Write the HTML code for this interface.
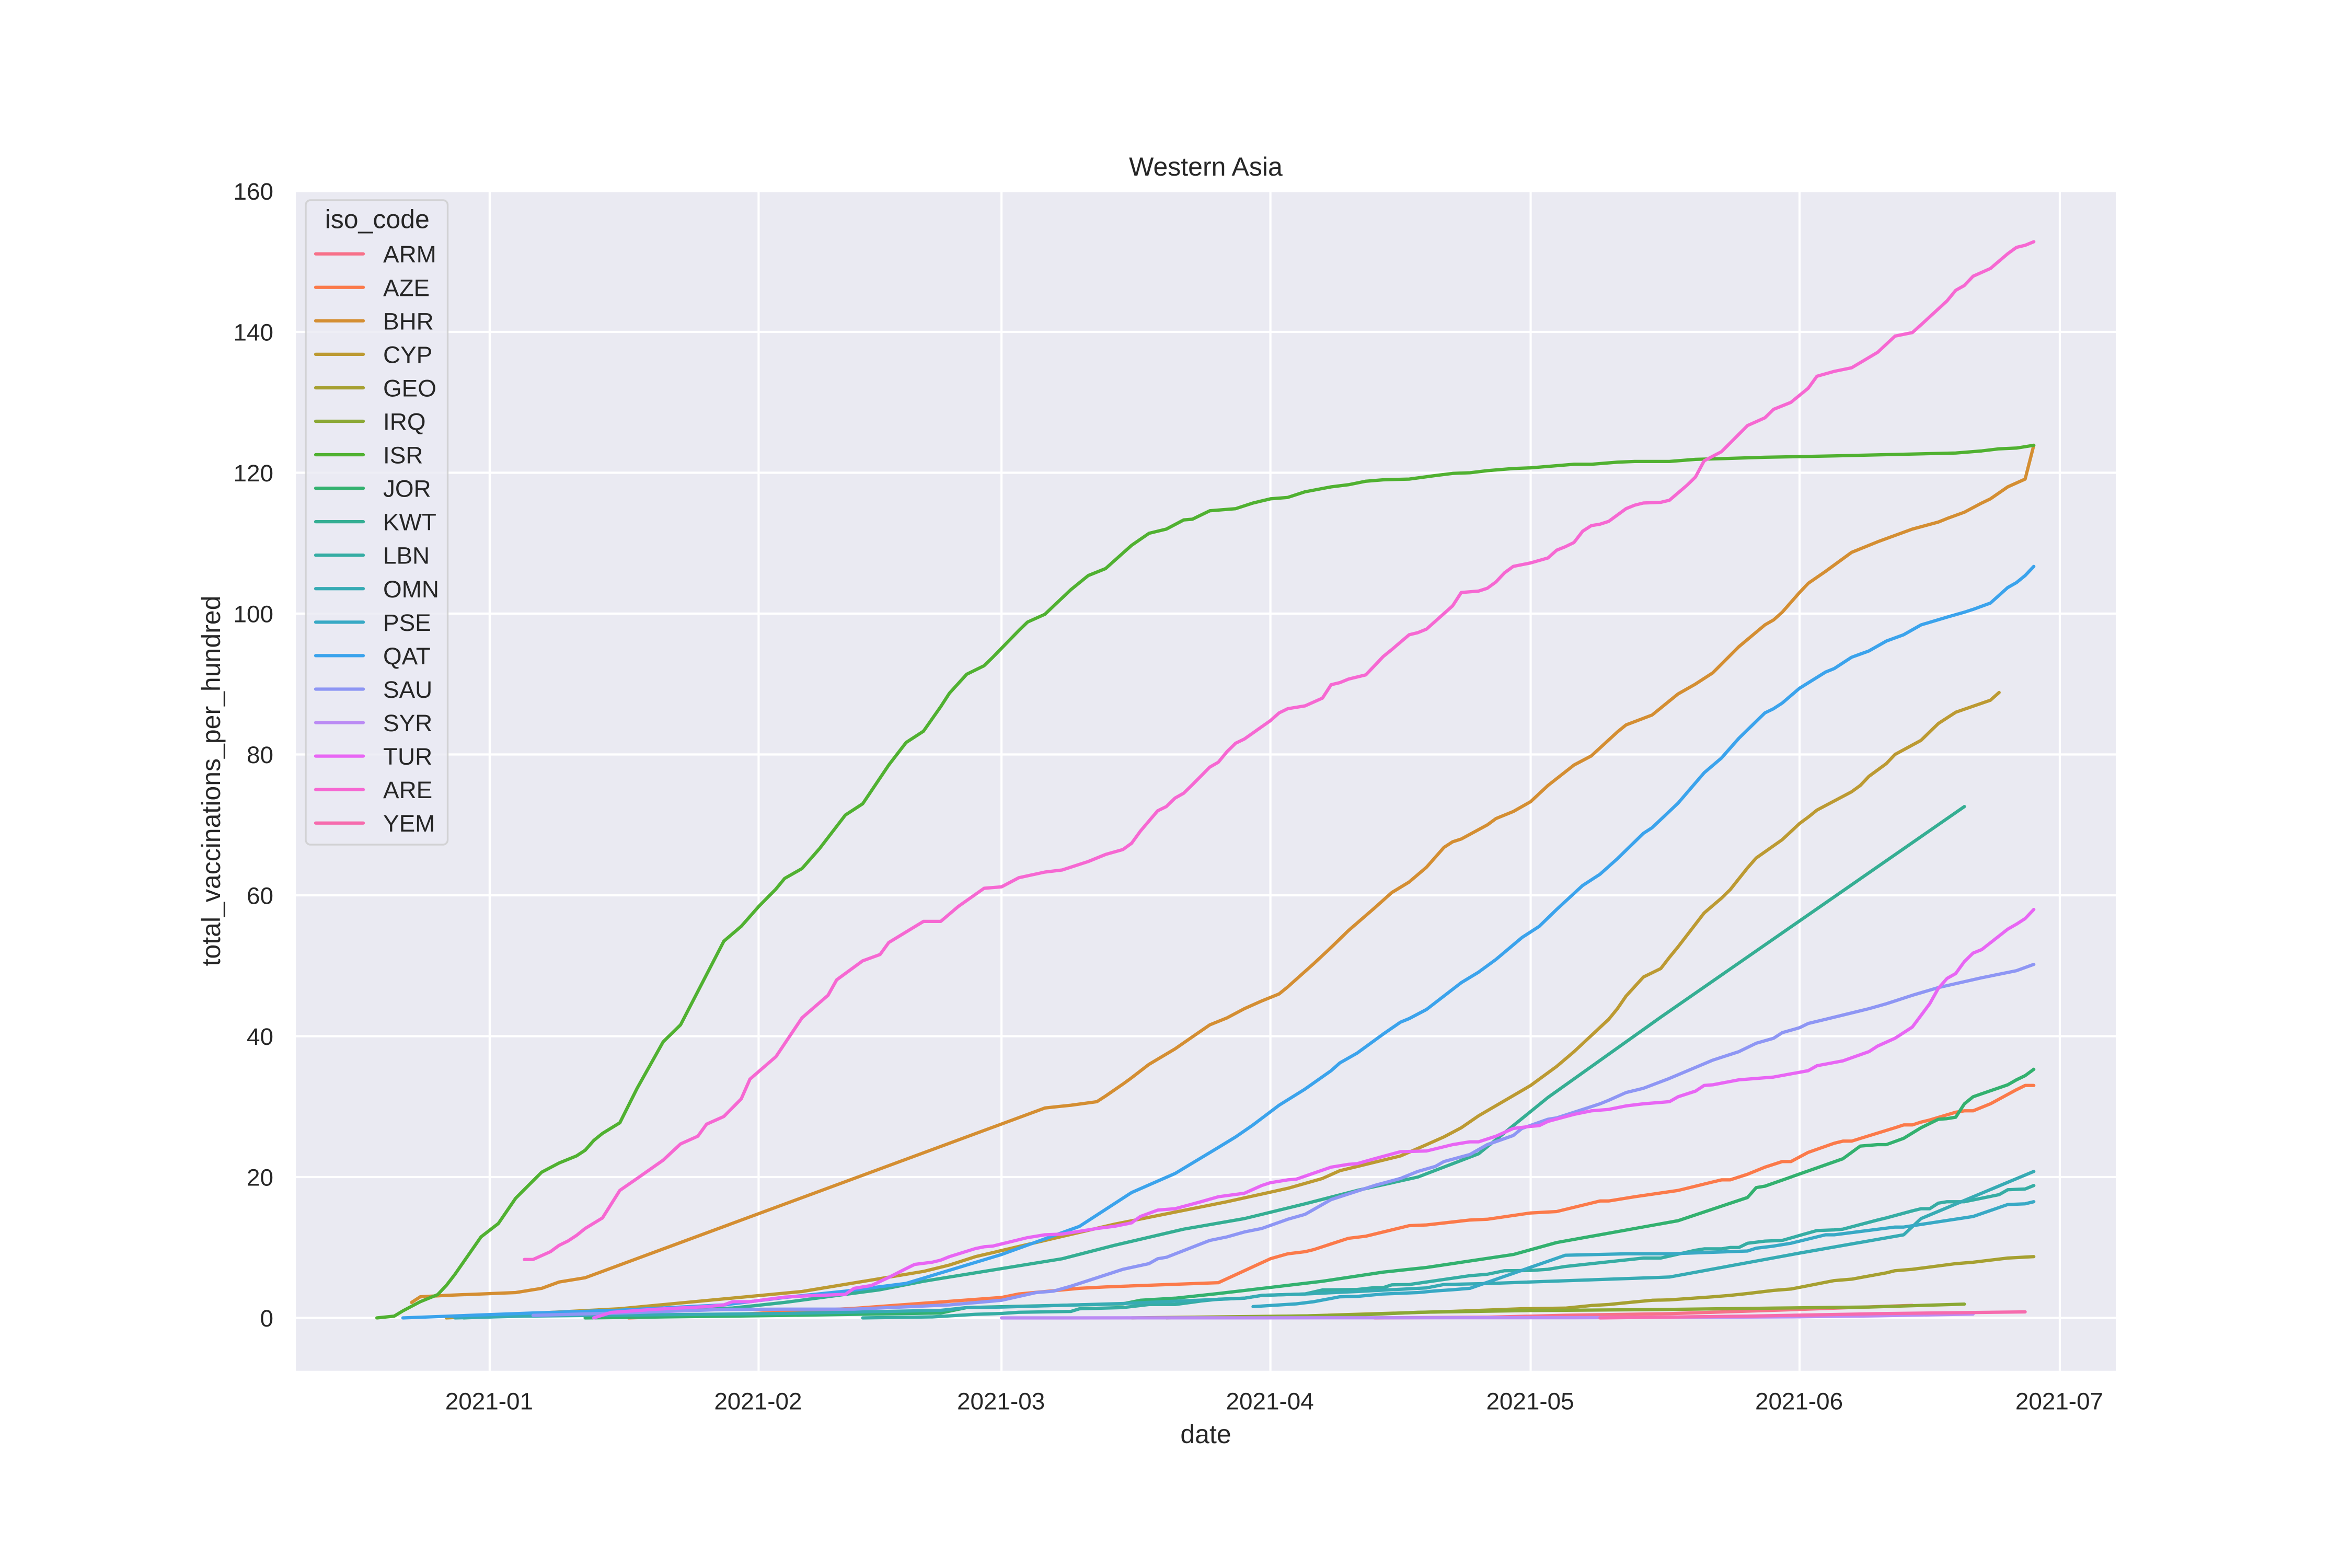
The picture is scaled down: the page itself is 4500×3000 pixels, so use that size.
<!DOCTYPE html>
<html lang="en">
<head>
<meta charset="utf-8">
<title>Western Asia</title>
<style>
html,body{margin:0;padding:0;background:#fff;}
svg{display:block;}
text{font-family:"Liberation Sans",sans-serif;fill:#262626;}
</style>
</head>
<body>
<svg id="chart" xmlns="http://www.w3.org/2000/svg" width="4500" height="3000" viewBox="0 0 4500 3000">
  <rect x="0" y="0" width="4500" height="3000" fill="#ffffff"/>
  <rect x="566" y="363" width="3482" height="2259.7" fill="#eaeaf2"/>
  <g id="grid"></g>
  <g id="series"></g>
  <g id="yticks"></g>
  <g id="xticks"></g>
  <text x="2307" y="336" font-size="50" text-anchor="middle">Western Asia</text>
  <text x="2307" y="2761" font-size="50" text-anchor="middle">date</text>
  <text transform="translate(421 1494) rotate(-90)" font-size="50" text-anchor="middle">total_vaccinations_per_hundred</text>
  <g id="legend">
    <rect x="585" y="383" width="271.5" height="1233" rx="9" ry="9" fill="#eaeaf2" fill-opacity="0.8" stroke="#cccccc" stroke-opacity="0.8" stroke-width="3.4"/>
    <text x="721.7" y="436.7" font-size="50" text-anchor="middle">iso_code</text>
  </g>
</svg>
<script>
const ISO_CODES = ['ARM','AZE','BHR','CYP','GEO','IRQ','ISR','JOR','KWT','LBN','OMN','PSE','QAT','SAU','SYR','TUR','ARE','YEM'];
const Y_TICK_VALUES = [0,20,40,60,80,100,120,140,160];
const X_TICK_LABELS = ['2021-01','2021-02','2021-03','2021-04','2021-05','2021-06','2021-07'];
const X_TICK_DAYS = [0,31,59,90,120,151,181];

// Days are counted from 2021-01-01; values are vaccinations per hundred.
const ARM_days = [102,115,124,136,151,160,164];
const ARM_values = [0,.1,.37,.6,1.2,1.6,1.78];

const AZE_days = [16,30,42,59,61,68,71,84,90,92,
  94,95,99,101,106,108,113,115,120,123,
  128,129,132,137,141,142,143,145,147,149,
  150,152,155,156,157,162,163,164,165,166,
  169,170,171,173,176,177,178];
const AZE_values = [0,.6,1.35,2.9,3.4,4.2,4.4,5,8.4,9.1,
  9.4,9.7,11.3,11.6,13.1,13.2,13.9,14,14.9,15.1,
  16.6,16.6,17.2,18.1,19.3,19.6,19.6,20.4,21.4,22.2,
  22.2,23.5,24.8,25.1,25.1,27,27.4,27.4,27.8,28.1,
  29.2,29.4,29.4,30.4,32.4,33,33];

const BHR_days = [-9,-8,-5,-1,3,4,6,8,11,64,
  67,70,71,73,74,76,79,81,83,85,
  87,89,91,92,95,97,99,102,104,106,
  108,110,111,112,115,116,118,120,122,125,
  127,130,131,134,137,139,141,144,147,148,
  149,151,152,154,157,160,164,167,168,170,
  172,173,175,177,178];
const BHR_values = [2.2,3,3.2,3.4,3.6,3.8,4.2,5.1,5.7,29.8,
  30.2,30.7,31.5,33.2,34.1,36,38.2,39.9,41.6,42.6,
  43.9,45,46,47,50.3,52.6,55,58.2,60.4,61.9,
  64,66.8,67.6,68,70,70.9,71.9,73.3,75.6,78.5,
  79.8,83.2,84.2,85.6,88.6,90,91.6,95.3,98.4,99.1,
  100.2,103,104.3,106,108.7,110.2,112,113,113.5,114.4,
  115.7,116.3,118,119.1,123.9];

const CYP_days = [-5,15,36,50,53,56,72,85,92,96,
  98,100,105,108,110,112,114,120,123,125,
  129,130,131,133,135,136,137,140,142,143,
  145,146,149,151,152,153,157,158,159,161,
  162,165,167,169,173,174];
const CYP_values = [0,1.3,3.75,6.6,7.5,8.7,13.3,16.5,18.4,19.8,
  20.9,21.5,23,24.6,25.7,27,28.7,33,35.7,37.8,
  42.4,43.9,45.7,48.4,49.6,51.2,52.7,57.5,59.6,60.8,
  63.9,65.3,67.9,70.2,71.1,72.1,74.7,75.6,76.9,78.7,
  80,82,84.4,86,87.7,88.8];

const GEO_days = [74,94,111,119,124,127,129,132,134,136,
  141,143,145,148,150,155,157,161,162,164,
  169,171,175,178];
const GEO_values = [0,.28,.93,1.3,1.39,1.76,1.9,2.27,2.5,2.56,
  3,3.2,3.46,3.9,4.1,5.3,5.5,6.4,6.7,6.9,
  7.7,7.9,8.5,8.7];

const IRQ_days = [78,87,100,107,120,136,148,159,170];
const IRQ_values = [0,.15,.4,.8,1.05,1.2,1.39,1.54,1.96];

const ISR_days = [-13,-11,-10,-8,-6,-5,-4,-1,1,3,
  6,8,10,11,12,13,15,17,20,22,27,29,31,
  33,34,36,38,41,43,46,48,50,52,
  53,55,57,58,61,62,64,67,69,71,
  74,76,78,80,81,83,86,88,90,92,
  94,97,99,101,103,106,109,111,113,115,
  118,120,123,125,127,130,132,136,139,142,
  147,155,162,169,172,174,176,178];
const ISR_values = [0,.25,1,2.3,3.3,4.6,6.2,11.5,13.4,17,
  20.7,22,23,23.8,25.2,26.2,27.7,32.6,39.2,41.6,53.5,55.6,58.4,
  60.9,62.4,63.8,66.6,71.4,73,78.5,81.7,83.3,86.8,
  88.7,91.4,92.6,93.8,97.6,98.8,99.9,103.4,105.4,106.4,
  109.7,111.4,112,113.3,113.4,114.6,114.9,115.7,116.3,116.5,
  117.3,118,118.3,118.8,119,119.1,119.6,119.9,120,120.3,
  120.6,120.7,121,121.2,121.2,121.5,121.6,121.6,121.9,122,
  122.2,122.4,122.6,122.8,123.1,123.4,123.5,123.9];

const JOR_days = [11,34,52,55,73,75,79,84,96,103,
  108,118,123,137,145,146,147,156,158,160,
  161,163,165,167,168,169,170,171,175,176,177,178];
const JOR_values = [0,.35,.7,1.47,2,2.5,2.8,3.46,5.2,6.5,
  7.16,9,10.7,13.8,17.1,18.5,18.7,22.6,24.4,24.6,
  24.6,25.5,27,28.2,28.3,28.5,30.4,31.4,33.1,33.8,34.4,35.3];

const KWT_days = [-3,28,34,45,50,59,66,72,80,87,
  94,100,107,114,118,122,135,170];
const KWT_values = [0,1.4,2.2,4,5.2,7,8.4,10.3,12.6,14.1,
  16.2,18.1,20,23.3,27.3,31.3,42.7,72.6];

const LBN_days = [43,51,56,59,61,67,68,73,76,79,
  82,84,87,89,94,96,100,102,103,104,
  106,113,115,117,120,122,124,133,135,139,
  140,142,143,144,145,147,149,151,153,155,
  156,160,161,164,165,166,167,168,170,174,
  175,177,178];
const LBN_values = [0,.14,.51,.63,.8,.92,1.3,1.47,1.9,1.9,
  2.4,2.65,2.8,3.2,3.4,3.97,4.04,4.3,4.3,4.7,
  4.74,6,6.2,6.7,6.73,6.9,7.3,8.5,8.5,9.6,
  9.8,9.8,10,10,10.6,10.9,11,11.7,12.4,12.5,
  12.6,13.9,14.2,15.2,15.5,15.5,16.3,16.5,16.5,17.5,
  18.2,18.3,18.8];

const OMN_days = [-4,4,20,34,52,55,59,73,87,89,
  94,100,108,110,115,136,151,163,165,178];
const OMN_values = [0,.25,.45,.63,1.07,1.47,1.54,2.04,2.8,3.2,
  3.4,3.75,4.26,4.74,4.88,5.8,9.2,11.8,14.1,20.8];

const PSE_days = [88,93,95,98,100,103,107,109,111,113,
  124,131,136,145,146,148,150,154,155,162,
  163,171,175,177,178];
const PSE_values = [1.6,2,2.3,3,3.05,3.4,3.6,3.83,4,4.2,
  8.9,9.1,9.1,9.5,9.9,10.2,10.6,11.8,11.8,12.9,
  12.9,14.4,16.1,16.2,16.5];

const QAT_days = [-10,4,15,27,34,41,48,59,68,74,
  79,84,86,88,91,94,97,98,100,103,
  105,106,108,112,114,116,119,121,123,126,
  128,130,133,134,137,140,142,144,147,148,
  149,151,154,155,157,159,161,163,165,168,
  170,171,173,175,176,177,178];
const QAT_values = [0,.65,1.1,1.85,2.9,3.8,4.9,9,13,17.8,
  20.5,24.2,25.7,27.4,30.2,32.5,35.1,36.2,37.6,40.3,
  42,42.5,43.8,47.6,49.1,50.9,54,55.6,58,61.4,
  63,65.2,68.8,69.6,73.1,77.4,79.5,82.3,85.9,86.5,
  87.3,89.4,91.7,92.2,93.8,94.7,96.1,97,98.4,99.5,
  100.2,100.6,101.5,103.7,104.4,105.4,106.7];

const SAU_days = [5,15,27,34,42,53,59,63,65,67,
  68,73,76,77,78,83,85,87,89,92,
  94,97,102,105,107,109,110,113,115,118,
  119,122,123,128,129,131,133,136,141,144,
  146,148,149,151,152,154,159,161,162,164,
  167,172,176,178];
const SAU_values = [.36,.7,1.2,1.25,1.25,1.85,2.5,3.6,3.8,4.5,
  4.9,6.9,7.7,8.4,8.6,11,11.5,12.2,12.7,14,
  14.7,16.8,18.8,19.8,20.8,21.5,22.2,23.2,24.6,25.9,
  26.9,28.2,28.4,30.4,30.9,32,32.6,34,36.6,37.8,
  39,39.7,40.5,41.2,41.8,42.4,43.9,44.6,45,45.8,
  46.9,48.3,49.3,50.2];

const SYR_days = [59,125,150,160,171];
const SYR_values = [0,.03,.15,.3,.55];

const TUR_days = [12,14,19,25,27,28,30,34,36,41,
  42,44,46,48,49,51,52,53,56,57,
  58,62,64,66,70,72,74,75,77,79,
  82,84,87,89,90,92,93,97,99,100,
  102,105,108,111,113,114,116,118,120,121,
  122,125,127,129,131,133,136,137,139,140,
  141,144,148,152,153,156,159,160,162,164,
  166,167,168,169,170,171,172,175,176,177,178];
const TUR_values = [0,.78,1.22,1.6,1.85,2.3,2.3,2.95,3.1,3.35,
  4.2,4.6,5.75,7,7.6,7.9,8.2,8.7,9.85,10.1,
  10.2,11.4,11.8,11.9,12.7,13,13.5,14.4,15.3,15.5,
  16.5,17.2,17.7,18.8,19.2,19.6,19.7,21.4,21.8,21.9,
  22.6,23.6,23.7,24.6,25,25,25.8,26.9,27.2,27.3,
  27.9,28.9,29.4,29.6,30.1,30.4,30.7,31.4,32.2,33,
  33.1,33.8,34.2,35.1,35.8,36.5,37.8,38.6,39.7,41.3,
  44.6,46.8,48.2,48.9,50.6,51.8,52.3,55.2,55.9,56.7,58];

const ARE_days = [4,5,7,8,9,10,11,13,15,17,
  20,22,24,25,27,29,30,33,36,39,
  40,43,45,46,50,52,54,57,59,61,
  64,66,69,71,73,74,75,77,78,79,
  80,81,83,84,85,86,87,90,91,92,
  94,96,97,98,99,101,102,103,104,106,
  107,108,110,111,112,114,115,116,117,118,
  120,122,123,124,125,126,127,128,129,131,
  132,133,135,136,138,139,140,142,145,147,
  148,150,152,153,155,157,160,162,164,165,
  168,169,170,171,173,175,176,177,178];
const ARE_values = [8.3,8.3,9.4,10.3,10.9,11.7,12.7,14.2,18.1,19.8,
  22.4,24.7,25.8,27.5,28.6,31.1,33.9,37.1,42.6,45.8,
  48,50.7,51.6,53.3,56.3,56.3,58.4,61,61.2,62.5,
  63.3,63.6,64.8,65.8,66.5,67.4,69.1,72,72.6,73.8,
  74.5,75.7,78.2,78.9,80.4,81.6,82.2,84.8,85.9,86.5,
  86.9,88,89.9,90.2,90.7,91.3,92.6,93.9,94.9,97,
  97.3,97.8,100,101.1,103,103.2,103.6,104.5,105.8,106.7,
  107.2,107.9,109,109.5,110.1,111.7,112.5,112.7,113.1,114.9,
  115.4,115.7,115.8,116.1,118.2,119.4,121.7,123,126.7,127.8,
  129,130,132,133.7,134.4,134.9,137.1,139.4,139.9,141,
  144.4,145.9,146.6,147.9,149,151.1,152,152.3,152.8];

const YEM_days = [128,145,160,177];
const YEM_values = [0,.25,.6,.85];

const SERIES_DAYS = [ARM_days,AZE_days,BHR_days,CYP_days,GEO_days,IRQ_days,ISR_days,JOR_days,KWT_days,LBN_days,OMN_days,PSE_days,QAT_days,SAU_days,SYR_days,TUR_days,ARE_days,YEM_days];
const SERIES_VALUES = [ARM_values,AZE_values,BHR_values,CYP_values,GEO_values,IRQ_values,ISR_values,JOR_values,KWT_values,LBN_values,OMN_values,PSE_values,QAT_values,SAU_values,SYR_values,TUR_values,ARE_values,YEM_values];
const SERIES_COLORS = ['#f77189','#fb7a4a','#d48e32','#bc9a32','#a6a031','#8ba835','#50b131','#33b16f','#35ae93','#36ada4','#37abb4','#38a9c5','#3ba3ec','#8e96f4','#bb8bf4','#e866f4','#f668d2','#f66bad'];

const SVG_NS = 'http://www.w3.org/2000/svg';
const PLOT = {left:566, right:4048, top:363, bottom:2622.7};

function xScale(day){ return 936.9 + 16.597 * day; }
function yScale(value){ return 2521.5 - 13.475 * value; }

function make(tag, attrs){
  const el = document.createElementNS(SVG_NS, tag);
  for (const k in attrs) el.setAttribute(k, attrs[k]);
  return el;
}

const gridGroup = document.getElementById('grid');
const yTickGroup = document.getElementById('yticks');
const xTickGroup = document.getElementById('xticks');
const seriesGroup = document.getElementById('series');
const legendGroup = document.getElementById('legend');

Y_TICK_VALUES.forEach(function(v){
  const y = yScale(v);
  const line = make('line', {x1:PLOT.left, x2:PLOT.right, y1:y, y2:y, stroke:'#ffffff', 'stroke-width':4.17});
  
  
  gridGroup.appendChild(line);
  const label = make('text', {x:523, y:y + 16.5, 'font-size':45.83, 'text-anchor':'end'});
  
  
  label.textContent = String(v);
  yTickGroup.appendChild(label);
});

X_TICK_DAYS.forEach(function(d, i){
  const x = xScale(d);
  const line = make('line', {x1:x, x2:x, y1:PLOT.top, y2:PLOT.bottom, stroke:'#ffffff', 'stroke-width':4.17});
  
  
  gridGroup.appendChild(line);
  const label = make('text', {x:x - 1, y:2696.7, 'font-size':45.83, 'text-anchor':'middle'});
  
  
  label.textContent = X_TICK_LABELS[i];
  xTickGroup.appendChild(label);
});

ISO_CODES.forEach(function(code, i){
  const days = SERIES_DAYS[i];
  const values = SERIES_VALUES[i];
  const n = Math.min(days.length, values.length);
  const pts = [];
  for (let k = 0; k < n; k++) {
    pts.push(xScale(days[k]).toFixed(1) + ',' + yScale(values[k]).toFixed(1));
  }
  const line = make('polyline', {points:pts.join(' '), fill:'none', stroke:SERIES_COLORS[i], 'stroke-width':6.25, 'stroke-linejoin':'round', 'stroke-linecap':'round'});
  
  
  seriesGroup.appendChild(line);

  const rowY = 485.7 + 64.06 * i;
  const entry = make('g', {});
  
  
  const swatch = make('line', {x1:604, x2:695, y1:rowY, y2:rowY, stroke:SERIES_COLORS[i], 'stroke-width':6.25, 'stroke-linecap':'round'});
  
  
  entry.appendChild(swatch);
  const label = make('text', {x:733, y:rowY + 16.5, 'font-size':45.83});
  
  
  label.textContent = code;
  entry.appendChild(label);
  legendGroup.appendChild(entry);
});
</script>
</body>
</html>
